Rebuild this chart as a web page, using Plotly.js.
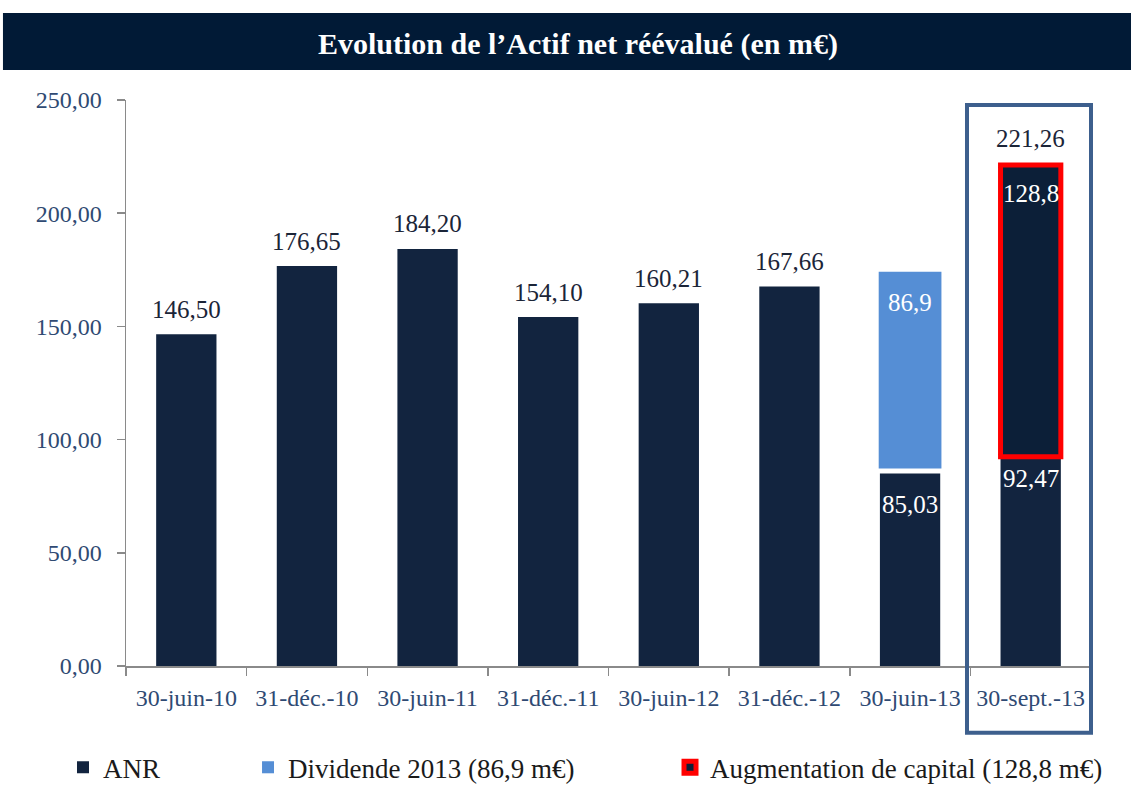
<!DOCTYPE html>
<html>
<head>
<meta charset="utf-8">
<script src="https://cdn.plot.ly/plotly-3.0.1.min.js"></script>
<style>html,body{margin:0;padding:0;background:#fff;}#chart{width:1131px;height:785px;}</style>
</head>
<body>
<div id="chart"></div>
<script>
// ---- data ----
var categories = ['30-juin-10', '31-déc.-10', '30-juin-11', '31-déc.-11', '30-juin-12', '31-déc.-12', '30-juin-13', '30-sept.-13'];
var anrValues = [146.50, 176.65, 184.20, 154.10, 160.21, 167.66, 85.03, 92.47];
var dividendValues = [null, null, null, null, null, null, 86.9, null];
var augmentationValues = [null, null, null, null, null, null, null, 128.8];
var totalValues = [null, null, null, null, null, null, null, 221.26];
var seriesNames = ['ANR', 'Dividende 2013 (86,9 m€)', 'Augmentation de capital (128,8 m€)'];
var yTicks = [0, 50, 100, 150, 200, 250];

// ---- styles ----
var FONT = 'Liberation Serif, Times New Roman, serif';
var DARK = '#12243F';
var DARK2 = '#0C1F38';
var LIGHT = '#558ED5';
var RED = '#FF0000';
var AXIS = '#8A8A8A';
var TICKTXT = '#2F4A73';
var LABEL = '#1B2538';
var GAP = 2.2; // visual gap between stacked segments (style)
var LBL = 25;

function fmt(v, d) { return v.toFixed(d).replace('.', ','); }

var dividendBase = dividendValues.map(function (v, i) { return v == null ? null : anrValues[i] + GAP; });
var augBase = augmentationValues.map(function (v, i) { return v == null ? null : anrValues[i]; });

var traces = [
  { type: 'bar', name: seriesNames[0], x: categories, y: anrValues, showlegend: true,
    marker: { color: DARK }, legend: 'legend', hoverinfo: 'x+y' },
  { type: 'bar', name: seriesNames[1], x: categories, y: dividendValues, base: dividendBase, showlegend: true,
    marker: { color: LIGHT }, width: 0.52, legend: 'legend2', hoverinfo: 'x+y' },
  { type: 'bar', name: seriesNames[2], x: categories, y: augmentationValues, base: augBase, showlegend: true,
    marker: { color: DARK2, line: { color: RED, width: 5 } }, legend: 'legend3', hoverinfo: 'x+y' }
];

// ---- labels ----
var annotations = [];
categories.forEach(function (c, i) {
  var hasSplit = dividendValues[i] != null || augmentationValues[i] != null;
  if (!hasSplit) {
    annotations.push({ x: c, y: anrValues[i], xref: 'x', yref: 'y', text: fmt(anrValues[i], 2),
      showarrow: false, yanchor: 'middle', yshift: 25, font: { family: FONT, size: LBL, color: LABEL } });
  } else {
    annotations.push({ x: c, y: anrValues[i], xref: 'x', yref: 'y', text: fmt(anrValues[i], 2),
      showarrow: false, yanchor: 'middle', yshift: dividendValues[i] != null ? -31 : -22,
      font: { family: FONT, size: LBL, color: '#FFFFFF' } });
  }
  if (dividendValues[i] != null) {
    annotations.push({ x: c, y: dividendBase[i] + dividendValues[i], xref: 'x', yref: 'y', text: fmt(dividendValues[i], 1),
      showarrow: false, yanchor: 'middle', yshift: -31, font: { family: FONT, size: LBL, color: '#FFFFFF' } });
  }
  if (augmentationValues[i] != null) {
    annotations.push({ x: c, y: augBase[i] + augmentationValues[i], xref: 'x', yref: 'y', text: fmt(augmentationValues[i], 1),
      showarrow: false, yanchor: 'middle', yshift: -28, font: { family: FONT, size: LBL, color: '#FFFFFF' } });
  }
  if (totalValues[i] != null) {
    annotations.push({ x: c, y: totalValues[i], xref: 'x', yref: 'y', text: fmt(totalValues[i], 2),
      showarrow: false, yanchor: 'middle', yshift: 27, font: { family: FONT, size: LBL, color: LABEL } });
  }
});

var legendCommon = { orientation: 'h', xref: 'container', yref: 'container', yanchor: 'middle', y: 0.022, xanchor: 'left',
  font: { family: FONT, size: 27, color: '#1A1A1A' }, bgcolor: 'rgba(0,0,0,0)', itemwidth: 30 };

var layout = {
  width: 1131, height: 785,
  margin: { l: 126, r: 40, t: 100, b: 119, pad: 0 },
  paper_bgcolor: '#FFFFFF', plot_bgcolor: '#FFFFFF',
  separators: ', ',
  barmode: 'overlay',
  bargap: 0.5,
  showlegend: true,
  font: { family: FONT, size: 22, color: TICKTXT },
  title: { text: '<b>Evolution de l\u2019Actif net réévalué (en m€)</b>', x: 0.511, xanchor: 'center',
    y: 0.945, yanchor: 'middle', yref: 'container', font: { family: FONT, size: 30, color: '#FFFFFF' } },
  xaxis: { type: 'category', showline: true, linecolor: AXIS, linewidth: 1.5, ticks: 'outside',
    tickson: 'boundaries', ticklen: 8, tickcolor: AXIS, tickwidth: 1.5, showgrid: false, zeroline: false,
    ticklabelstandoff: 10, automargin: false, tickangle: 0,
    tickfont: { family: FONT, size: 24, color: TICKTXT }, fixedrange: true },
  yaxis: { range: [0, 250], tickvals: yTicks, tickformat: '.2f', showline: true, linecolor: AXIS, linewidth: 1.5,
    ticks: 'outside', ticklen: 8, tickcolor: AXIS, tickwidth: 1.5, showgrid: false, zeroline: false,
    ticklabelstandoff: 10, automargin: false,
    tickfont: { family: FONT, size: 24, color: TICKTXT }, fixedrange: true },
  legend: Object.assign({}, legendCommon, { x: 0.0557 }),
  legend2: Object.assign({}, legendCommon, { x: 0.2193 }),
  legend3: Object.assign({}, legendCommon, { x: 0.5924 }),
  shapes: [
    { type: 'rect', xref: 'paper', yref: 'paper', x0: -0.1275, x1: 1.0415, y0: 1.053, y1: 1.1537,
      fillcolor: '#011A36', line: { width: 0 }, layer: 'below' },
    { type: 'rect', xref: 'paper', yref: 'paper', x0: 0.8715, x1: 1.0, y0: -0.118, y1: 0.991,
      fillcolor: 'rgba(0,0,0,0)', line: { color: '#3D5F8D', width: 4 }, layer: 'above' }
  ],
  annotations: annotations
};

Plotly.newPlot('chart', traces, layout, { displayModeBar: false, staticPlot: true });
</script>
</body>
</html>
